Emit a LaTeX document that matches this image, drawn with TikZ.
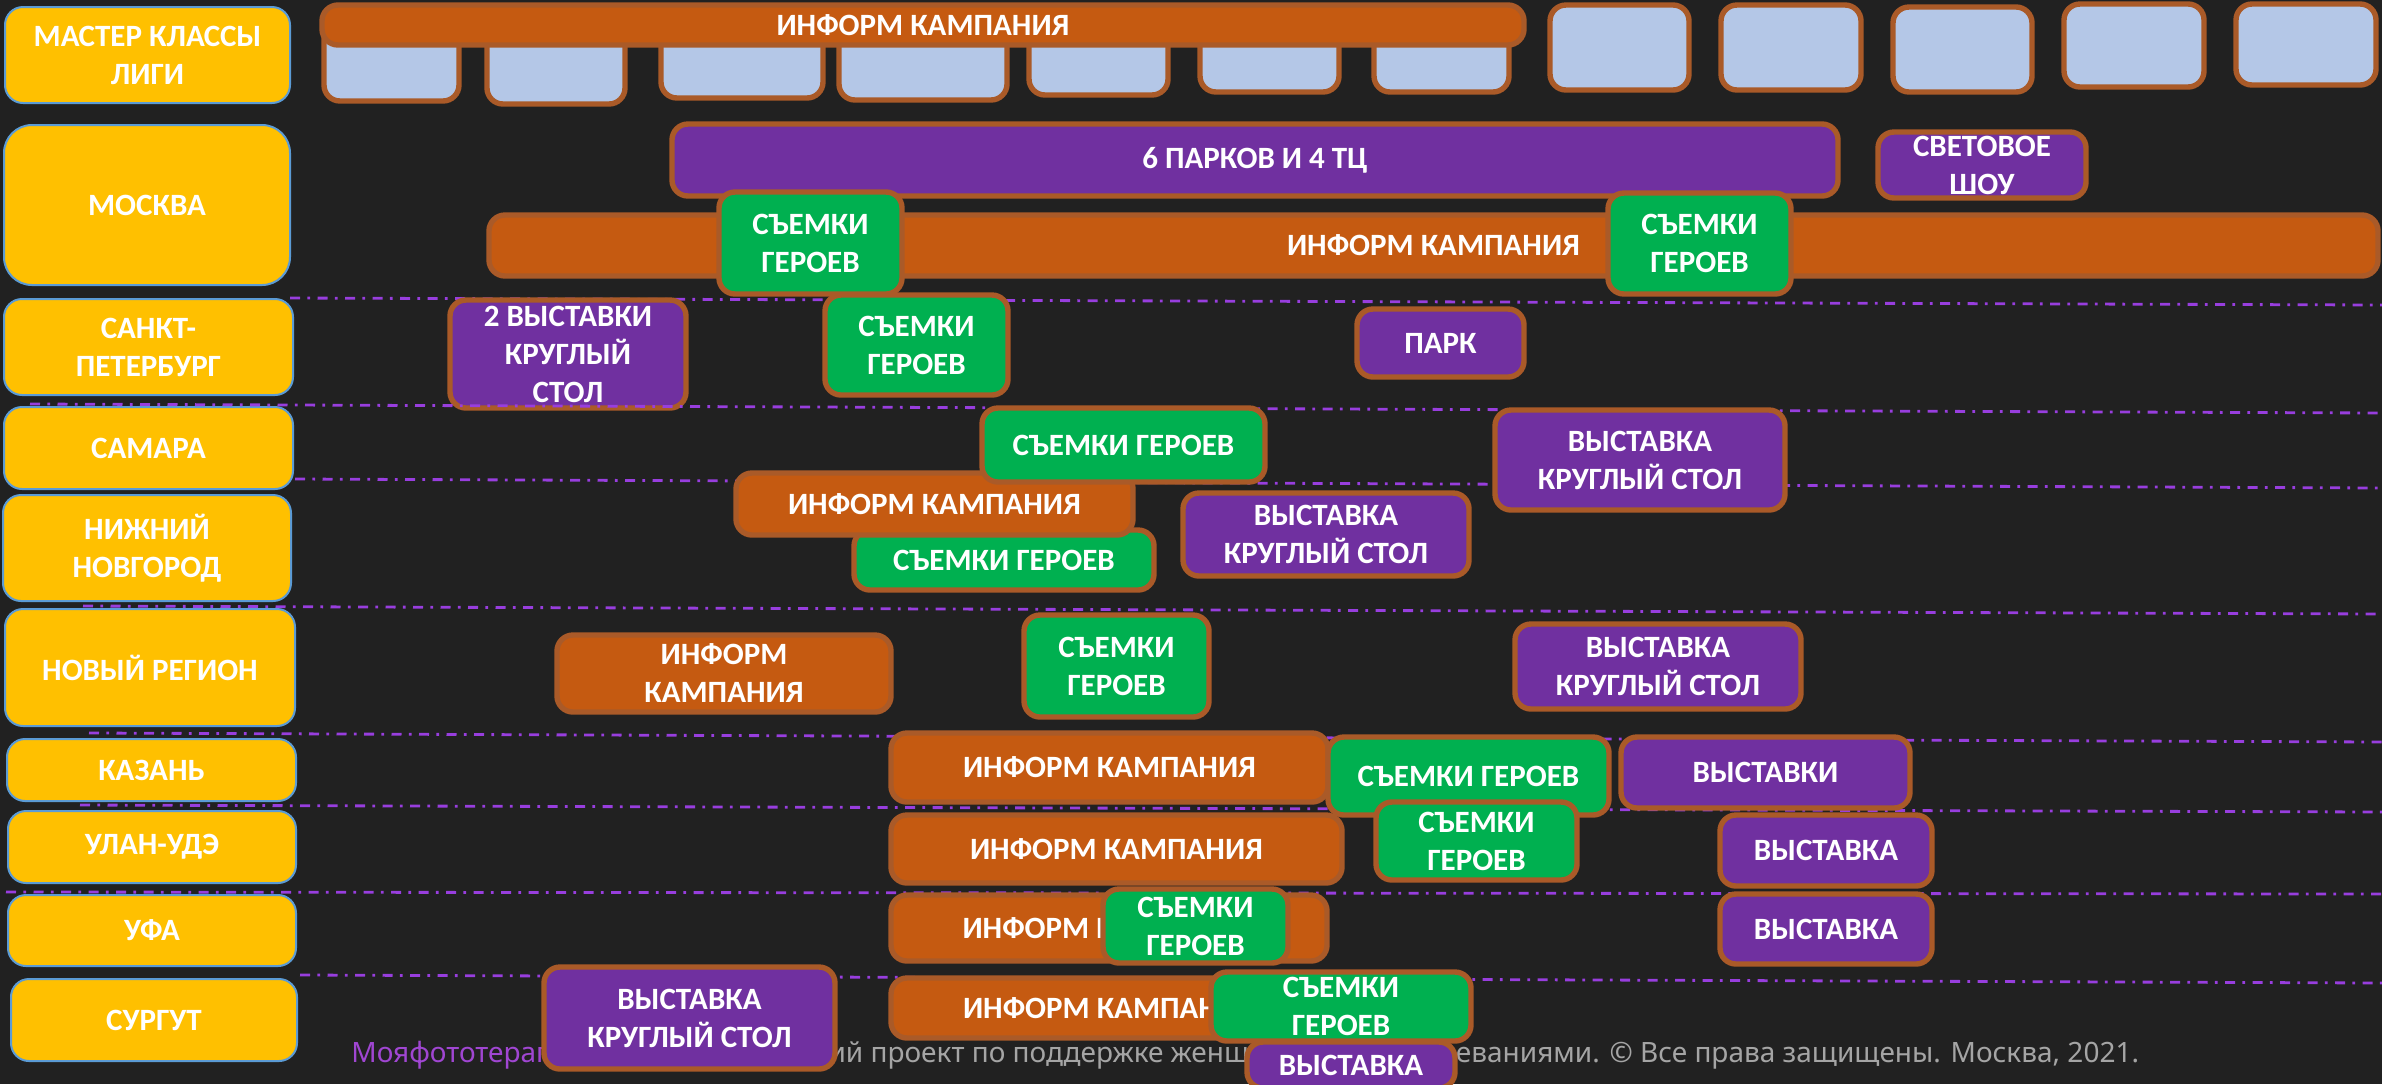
\documentclass[tikz,border=0pt]{standalone}
\usepackage{fontspec}
\setmainfont{Carlito}
\newfontfamily\footfont{Noto Sans}
\definecolor{bgc}{HTML}{212121}
\definecolor{cyellow}{HTML}{FFC000}
\definecolor{cityb}{HTML}{5B9BD5}
\definecolor{orng}{HTML}{C55A11}
\definecolor{purp}{HTML}{7030A0}
\definecolor{grn}{HTML}{00B050}
\definecolor{lblue}{HTML}{B4C7E7}
\definecolor{brd}{RGB}{170,90,40}
\definecolor{dashc}{RGB}{152,62,222}
\definecolor{footg}{RGB}{165,165,165}
\definecolor{footp}{RGB}{160,70,210}
\newcommand\bxf{\bfseries\fontsize{15.5pt}{19pt}\selectfont}
% #1 name, #2 x1, #3 y1, #4 x2, #5 y2, #6 style, #7 text
\newcommand\ebox[7]{%
  \node[#6, minimum width={(#4-#2)*0.5pt-2pt}, minimum height={(#5-#3)*0.5pt-2pt},
        label={[txt]center:{#7}}] (#1) at ({(#2+#4)/2},{(#3+#5)/2}) {};}
\tikzset{
  txt/.style={text=white, align=center, font=\bxf, inner sep=0pt},
  ev/.style={draw=brd, line width=2.7pt, rounded corners=8pt, inner sep=0pt},
  org/.style={ev, fill=orng},
  pur/.style={ev, fill=purp},
  grb/.style={ev, fill=grn},
  lbb/.style={ev, fill=lblue},
  city/.style={draw=cityb, line width=1pt, fill=cyellow, rounded corners=9pt, inner sep=0pt},
  bigcity/.style={city, rounded corners=14pt},
  dl/.style={draw=dashc, line width=1.4pt, dash pattern=on 5pt off 3.7pt on 1.35pt off 3.7pt}
}
\begin{document}
\begin{tikzpicture}[x=0.5pt, y=-0.5pt]
\useasboundingbox (0,0) rectangle (2382,1084);
\fill[bgc] (0,0) rectangle (2382,1084);
% footer
\node[anchor=base west, inner sep=0pt, font=\footfont\fontsize{14pt}{17pt}\selectfont, text=footg] (foot) at (351,1062)
  {\textcolor{footp}{Мояфототерапия} — некоммерческий проект по поддержке женщин с онкозаболеваниями. © Все права защищены. Москва, 2021.};
% separator lines
\draw[dl] (290,298) -- (2382,305);
\draw[dl] (295,479) -- (2382,488);
\draw[dl] (83,606) -- (2382,614);
\draw[dl] (89,733) -- (2382,742);
\draw[dl] (80,805) -- (2382,812);
\draw[dl] (6,892) -- (2382,894);
\draw[dl] (300,975) -- (2382,983);
% city boxes
\ebox{cm}{3}{5}{292}{105}{city}{МАСТЕР КЛАССЫ\\ЛИГИ}
\ebox{cmsk}{2}{123}{292}{287}{bigcity}{МОСКВА}
\ebox{cspb}{2}{297}{295}{397}{city}{САНКТ-\\ПЕТЕРБУРГ}
\ebox{csam}{2}{405}{295}{491}{city}{САМАРА}
\ebox{cnn}{1}{493}{293}{603}{city}{НИЖНИЙ\\НОВГОРОД}
\ebox{cnr}{3}{607}{297}{728}{city}{НОВЫЙ РЕГИОН}
\ebox{ckaz}{5}{737}{298}{803}{city}{КАЗАНЬ}
\ebox{cuu}{6}{809}{298}{885}{city}{УЛАН-УДЭ}
\ebox{cufa}{6}{893}{298}{968}{city}{УФА}
\ebox{csur}{9}{977}{299}{1063}{city}{СУРГУТ}
% master classes
\ebox{b1}{322}{20}{461}{103}{lbb}{}
\ebox{b2}{485}{20}{627}{106}{lbb}{}
\ebox{b3}{659}{20}{825}{100}{lbb}{}
\ebox{b4}{837}{20}{1009}{102}{lbb}{}
\ebox{b5}{1027}{20}{1170}{97}{lbb}{}
\ebox{b6}{1198}{20}{1341}{94}{lbb}{}
\ebox{b7}{1372}{20}{1511}{94}{lbb}{}
\ebox{mbar}{320}{3}{1526}{47}{org}{ИНФОРМ КАМПАНИЯ}
\ebox{b8}{1548}{3}{1691}{92}{lbb}{}
\ebox{b9}{1719}{3}{1863}{92}{lbb}{}
\ebox{b10}{1891}{5}{2034}{94}{lbb}{}
\ebox{b11}{2062}{2}{2206}{89}{lbb}{}
\ebox{b12}{2234}{2}{2378}{87}{lbb}{}
% Moscow
\ebox{mpark}{670}{122}{1840}{198}{pur}{6 ПАРКОВ И 4 ТЦ}
\ebox{mshow}{1876}{130}{2088}{200}{pur}{СВЕТОВОЕ\\ШОУ}
\ebox{minf}{487}{213}{2380}{278}{org}{ИНФОРМ КАМПАНИЯ}
\ebox{mg1}{717}{190}{904}{296}{grb}{СЪЕМКИ\\ГЕРОЕВ}
\ebox{mg2}{1606}{191}{1793}{296}{grb}{СЪЕМКИ\\ГЕРОЕВ}
% SPb
\ebox{sv}{448}{298}{688}{410}{pur}{2 ВЫСТАВКИ\\КРУГЛЫЙ\\СТОЛ}
\ebox{sg}{823}{293}{1010}{397}{grb}{СЪЕМКИ\\ГЕРОЕВ}
\ebox{sp}{1355}{307}{1526}{379}{pur}{ПАРК}
\draw[dl] (30,404) -- (2382,413);
% Nizhny
\ebox{ng}{852}{528}{1156}{592}{grb}{СЪЕМКИ ГЕРОЕВ}
\ebox{ni}{734}{471}{1135}{537}{org}{ИНФОРМ КАМПАНИЯ}
\ebox{nv}{1181}{491}{1471}{578}{pur}{ВЫСТАВКА\\КРУГЛЫЙ СТОЛ}
% Samara
\ebox{smg}{980}{406}{1267}{484}{grb}{СЪЕМКИ ГЕРОЕВ}
\ebox{smv}{1493}{408}{1787}{512}{pur}{ВЫСТАВКА\\КРУГЛЫЙ СТОЛ}
% New region
\ebox{ri}{555}{633}{893}{714}{org}{ИНФОРМ\\КАМПАНИЯ}
\ebox{rg}{1022}{613}{1211}{719}{grb}{СЪЕМКИ\\ГЕРОЕВ}
\ebox{rv}{1513}{622}{1803}{711}{pur}{ВЫСТАВКА\\КРУГЛЫЙ СТОЛ}
% Ulan-Ude orange
\ebox{ui}{889}{813}{1344}{885}{org}{ИНФОРМ КАМПАНИЯ}
% Kazan
\ebox{ki}{889}{731}{1330}{804}{org}{ИНФОРМ КАМПАНИЯ}
\ebox{kg}{1326}{735}{1611}{817}{grb}{СЪЕМКИ ГЕРОЕВ}
\ebox{kv}{1619}{735}{1912}{810}{pur}{ВЫСТАВКИ}
% Ulan-Ude rest
\ebox{ug}{1374}{800}{1579}{882}{grb}{СЪЕМКИ\\ГЕРОЕВ}
\ebox{uv}{1718}{813}{1934}{888}{pur}{ВЫСТАВКА}
% Ufa
\ebox{fi}{889}{893}{1329}{963}{org}{ИНФОРМ КАМПАНИЯ}
\ebox{fg}{1101}{887}{1290}{965}{grb}{СЪЕМКИ\\ГЕРОЕВ}
\ebox{fv}{1718}{892}{1934}{966}{pur}{ВЫСТАВКА}
% Surgut
\ebox{gv}{542}{965}{837}{1071}{pur}{ВЫСТАВКА\\КРУГЛЫЙ СТОЛ}
\ebox{gi}{889}{976}{1330}{1040}{org}{ИНФОРМ КАМПАНИЯ}
\ebox{gv2}{1245}{1040}{1457}{1090}{pur}{ВЫСТАВКА}
\ebox{gg}{1209}{970}{1473}{1043}{grb}{СЪЕМКИ\\ГЕРОЕВ}
\end{tikzpicture}
\end{document}
